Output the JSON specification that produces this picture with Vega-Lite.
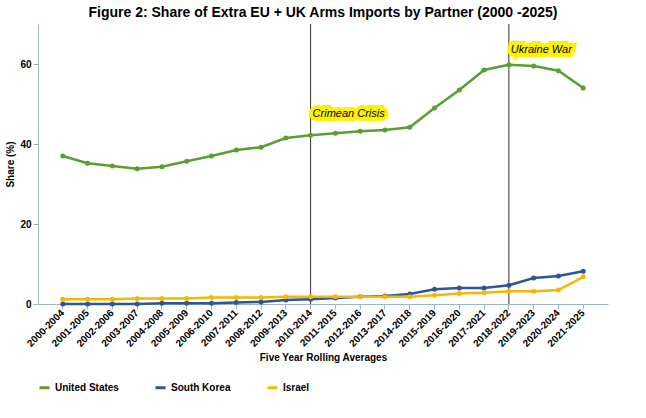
{
  "$schema": "https://vega.github.io/schema/vega-lite/v6.json",
  "width": 570,
  "height": 280,
  "background": "white",
  "title": {"text": "Figure 2: Share of Extra EU + UK Arms Imports by Partner (2000 -2025)", "font": "Liberation Sans", "fontSize": 14, "fontWeight": "bold", "color": "black"},
  "datasets": {
    "rows": [
      {"p": "2000-2004", "US": 37.0, "SK": 0.0, "IL": 1.2},
      {"p": "2001-2005", "US": 35.2, "SK": 0.0, "IL": 1.2},
      {"p": "2002-2006", "US": 34.5, "SK": 0.0, "IL": 1.2},
      {"p": "2003-2007", "US": 33.8, "SK": 0.0, "IL": 1.4},
      {"p": "2004-2008", "US": 34.3, "SK": 0.2, "IL": 1.4},
      {"p": "2005-2009", "US": 35.7, "SK": 0.2, "IL": 1.4},
      {"p": "2006-2010", "US": 37.0, "SK": 0.2, "IL": 1.6},
      {"p": "2007-2011", "US": 38.5, "SK": 0.4, "IL": 1.6},
      {"p": "2008-2012", "US": 39.2, "SK": 0.5, "IL": 1.6},
      {"p": "2009-2013", "US": 41.5, "SK": 1.0, "IL": 1.8},
      {"p": "2010-2014", "US": 42.2, "SK": 1.2, "IL": 1.8},
      {"p": "2011-2015", "US": 42.7, "SK": 1.5, "IL": 1.8},
      {"p": "2012-2016", "US": 43.2, "SK": 1.8, "IL": 1.8},
      {"p": "2013-2017", "US": 43.5, "SK": 2.0, "IL": 1.8},
      {"p": "2014-2018", "US": 44.2, "SK": 2.5, "IL": 1.8},
      {"p": "2015-2019", "US": 49.0, "SK": 3.7, "IL": 2.2},
      {"p": "2016-2020", "US": 53.5, "SK": 4.0, "IL": 2.6},
      {"p": "2017-2021", "US": 58.5, "SK": 4.0, "IL": 2.8},
      {"p": "2018-2022", "US": 59.8, "SK": 4.7, "IL": 3.2},
      {"p": "2019-2023", "US": 59.5, "SK": 6.5, "IL": 3.2},
      {"p": "2020-2024", "US": 58.3, "SK": 7.0, "IL": 3.5},
      {"p": "2021-2025", "US": 54.0, "SK": 8.2, "IL": 6.8}
    ],
    "events": [
      {"p": "2010-2014", "label": "Crimean Crisis", "y": 47.5},
      {"p": "2018-2022", "label": "Ukraine War", "y": 63.5}
    ]
  },
  "layer": [
    {
      "data": {"name": "events"},
      "mark": {"type": "rule", "color": "#333333", "strokeWidth": 1},
      "encoding": {"x": {"field": "p", "type": "ordinal"}}
    },
    {
      "data": {"name": "rows"},
      "transform": [
        {"fold": ["US", "SK", "IL"], "as": ["k", "v"]},
        {"lookup": "k", "from": {"data": {"values": [
          {"k": "US", "name": "United States"},
          {"k": "SK", "name": "South Korea"},
          {"k": "IL", "name": "Israel"}]}, "key": "k", "fields": ["name"]}}
      ],
      "mark": {"type": "line", "strokeWidth": 2.5, "point": {"size": 25, "filled": true}},
      "encoding": {
        "x": {"field": "p", "type": "ordinal", "title": "Five Year Rolling Averages",
          "axis": {"labelAngle": -45, "labelFontWeight": "bold", "labelFontSize": 10, "labelColor": "black", "titleFontSize": 10, "titleFontWeight": "bold", "domainColor": "#9DB4D0", "tickColor": "#9DB4D0"},
          "scale": {"paddingOuter": 0.5}},
        "y": {"field": "v", "type": "quantitative", "title": "Share (%)",
          "scale": {"domain": [0, 70]},
          "axis": {"values": [0, 10, 20, 30, 40, 50, 60, 70], "labelOverlap": false, "grid": false, "labelFontWeight": "bold", "labelColor": "black", "titleFontSize": 10, "titleFontWeight": "bold", "domainColor": "#9DB4D0", "tickColor": "#9DB4D0"}},
        "color": {"field": "name", "type": "nominal", "title": null,
          "scale": {"domain": ["United States", "South Korea", "Israel"], "range": ["#5A9E2F", "#2F5597", "#F5B800"]},
          "legend": {"orient": "bottom", "labelFontWeight": "bold", "labelFontSize": 10, "symbolType": "stroke", "symbolStrokeWidth": 3, "columnPadding": 30}}
      }
    },
    {
      "data": {"name": "events"},
      "mark": {"type": "text", "align": "left", "dx": 2, "fontStyle": "italic", "fontSize": 11, "stroke": "#FFF200", "strokeWidth": 8, "fill": "#FFF200"},
      "encoding": {"x": {"field": "p", "type": "ordinal"}, "y": {"field": "y", "type": "quantitative"}, "text": {"field": "label"}}
    },
    {
      "data": {"name": "events"},
      "mark": {"type": "text", "align": "left", "dx": 2, "fontStyle": "italic", "fontSize": 11, "color": "black"},
      "encoding": {"x": {"field": "p", "type": "ordinal"}, "y": {"field": "y", "type": "quantitative"}, "text": {"field": "label"}}
    }
  ],
  "config": {"view": {"stroke": null}, "font": "Liberation Sans"}
}
